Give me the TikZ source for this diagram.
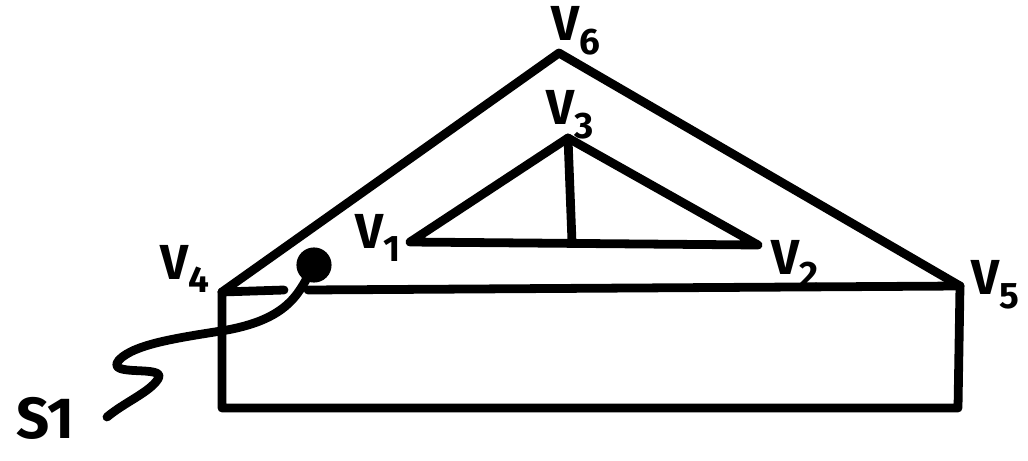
\documentclass[tikz,border=0pt]{standalone}
\usepackage{fontspec}
\setmainfont{Fira Sans}
\usetikzlibrary{positioning}

\newcommand{\vlab}[1]{V\raisebox{-.28em}{\fontsize{21}{21}\selectfont #1}}

\begin{document}
\begin{tikzpicture}[x=0.02cm,y=-0.02cm,
 stroke/.style={line width=5pt,line cap=round,line join=round},
 lab/.style={font=\fontsize{28}{30}\selectfont\bfseries,inner sep=0pt},
 big/.style={font=\fontsize{33}{36}\selectfont\bfseries,inner sep=0pt}]
\useasboundingbox (0,0) rectangle (1028,460);
% roof and inner truss
\coordinate (v4) at (222,292);
\coordinate (v5) at (960,286);
\coordinate (v6) at (559,53);
\coordinate (v1) at (410,242);
\coordinate (v2) at (758,245);
\coordinate (v3) at (568,138);
\coordinate (mid) at (572,242);
\coordinate (gapl) at (284,290);
\coordinate (gapr) at (308,290);
\coordinate (bl) at (222,408);
\coordinate (br) at (958,408);
\draw[stroke] (v4) -- (v6) -- (v5);
\draw[stroke] (v4) -- (gapl); \draw[stroke] (gapr) -- (v5);
\draw[stroke] (v4) -- (bl) -- (br) -- (v5);
\draw[stroke] (v1) -- (v3) -- (v2) -- cycle;
\draw[stroke] (v3) -- (mid);
% sensor cable
\node[circle,fill,inner sep=0pt,minimum size=20pt] (dot) at (314,265) {};
\coordinate (tail) at (107,417);
\draw[stroke] (dot.center) .. controls (300,290) and (292,318) .. (227,330)
 .. controls (185,337) and (135,343) .. (119,360)
 .. controls (104,378) and (168,364) .. (158,379)
 .. controls (150,392) and (125,402) .. (tail);
% labels
\node[lab] (l6) at (576,31) {\vlab{6}};
\node[lab] (l3) at (570,115) {\vlab{3}};
\node[lab] (l1) at (378,238) {\vlab{1}};
\node[lab] (l2) at (795,264) {\vlab{2}};
\node[lab] (l4) at (185,269) {\vlab{4}};
\node[lab] (l5) at (995,285) {\vlab{5}};
\node[big] (s1) at (45,418) {S1};
\end{tikzpicture}
\end{document}
